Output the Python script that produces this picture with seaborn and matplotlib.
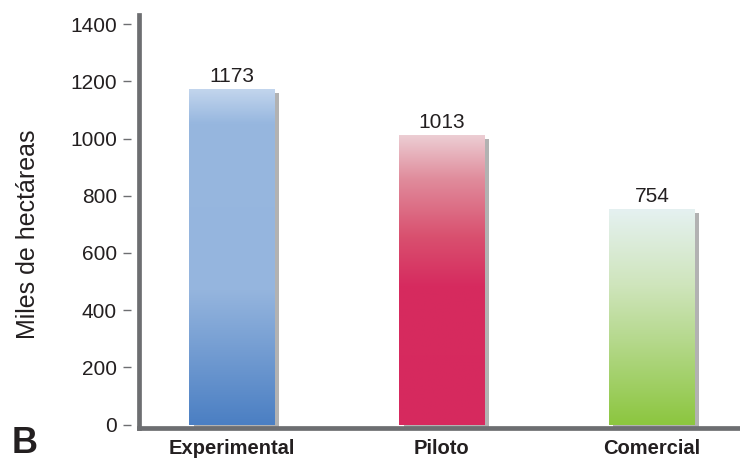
import numpy as np
import pandas as pd
import matplotlib
matplotlib.use("Agg")
import matplotlib.pyplot as plt
import matplotlib.patheffects as pe
from matplotlib.colors import LinearSegmentedColormap
import seaborn as sns

categories = ["Experimental", "Piloto", "Comercial"]
values = [1173, 1013, 754]
y_ticks = [0, 200, 400, 600, 800, 1000, 1200, 1400]

# vertical gradient stops per bar (0 = top of bar, 1 = base)
gradients = [
    [(0.0, "#c2d5ed"), (0.10, "#97b7df"), (0.60, "#95b5de"), (1.0, "#4b7fc3")],
    [(0.0, "#eccdd3"), (0.15, "#e08c9c"), (0.35, "#d9506f"), (0.52, "#d62b5f"), (1.0, "#d6295e")],
    [(0.0, "#e5f1f1"), (0.35, "#cfe5bc"), (0.60, "#b6d98e"), (1.0, "#8cc63f")],
]

sns.set_style("white")
plt.rcParams["font.family"] = ["Liberation Sans", "DejaVu Sans"]

df = pd.DataFrame({"cat": categories, "val": values})

fig = plt.figure(figsize=(7.4, 4.63), dpi=100)
ax = fig.add_axes([139 / 740, 35 / 463, 601 / 740, 413 / 463])

sns.barplot(data=df, x="cat", y="val", hue="cat", dodge=False, legend=False,
            palette=[g[-1][1] for g in gradients], width=0.405,
            saturation=1, ax=ax, linewidth=0)

ax.set_xlim(-0.443, 2.42)
ax.set_ylim(-12, 1432)

# gradient fill + drop shadow on each bar
for patch, stops in zip(ax.patches, gradients):
    patch.set_path_effects([pe.SimplePatchShadow(offset=(3, -3), shadow_rgbFace="#b2b2b2", alpha=1.0),
                            pe.Normal()])
    x0, y0 = patch.get_x(), patch.get_y()
    w, h = patch.get_width(), patch.get_height()
    cmap = LinearSegmentedColormap.from_list("bar", stops)
    grad = np.linspace(0, 1, 256).reshape(-1, 1)
    im = ax.imshow(grad, cmap=cmap, aspect="auto", extent=(x0, x0 + w, y0, y0 + h),
                   origin="upper", zorder=patch.get_zorder() + 0.1, interpolation="bilinear")
    im.set_clip_path(patch)

ax.set_xlim(-0.443, 2.42)
ax.set_ylim(-12, 1432)

# value labels above bars
for patch, v in zip(ax.patches, values):
    ax.annotate(f"{v}", (patch.get_x() + patch.get_width() / 2, v),
                xytext=(0, 2), textcoords="offset points",
                ha="center", va="bottom", fontsize=15, color="#231f20")

# spines
for side in ["top", "right"]:
    ax.spines[side].set_visible(False)
for side in ["left", "bottom"]:
    ax.spines[side].set_color("#6d6e71")
    ax.spines[side].set_linewidth(3.4)
    ax.spines[side].set_zorder(5)

# y axis: detached short tick dashes
ax.set_yticks(y_ticks)
ax.set_yticklabels([str(t) for t in y_ticks], fontsize=15, color="#231f20")
ax.tick_params(axis="y", length=0, pad=16)
trans = matplotlib.transforms.blended_transform_factory(ax.transAxes, ax.transData)
for t in y_ticks:
    ax.plot([-0.0266, -0.0133], [t, t], transform=trans, color="#6d6e71",
            lw=1.0, clip_on=False, solid_capstyle="butt")

ax.set_ylabel("Miles de hectáreas", fontsize=18, color="#231f20")
ax.yaxis.set_label_coords(-0.165, 0.47)

# x axis: category labels with separators between groups
ax.set_xticks([0, 1, 2])
ax.set_xticklabels(categories, fontsize=14.5, fontweight="bold", color="#231f20")
ax.tick_params(axis="x", which="major", length=0, pad=8)
ax.set_xticks([0.5, 1.5], minor=True)
ax.tick_params(axis="x", which="minor", length=13, width=1.0, color="#8a8a8a", direction="out")
ax.set_xlabel("")

fig.text(12 / 740, 10 / 463, "B", fontsize=26, fontweight="bold", color="#231f20",
         ha="left", va="baseline")

fig.savefig("out.png", dpi=100)
